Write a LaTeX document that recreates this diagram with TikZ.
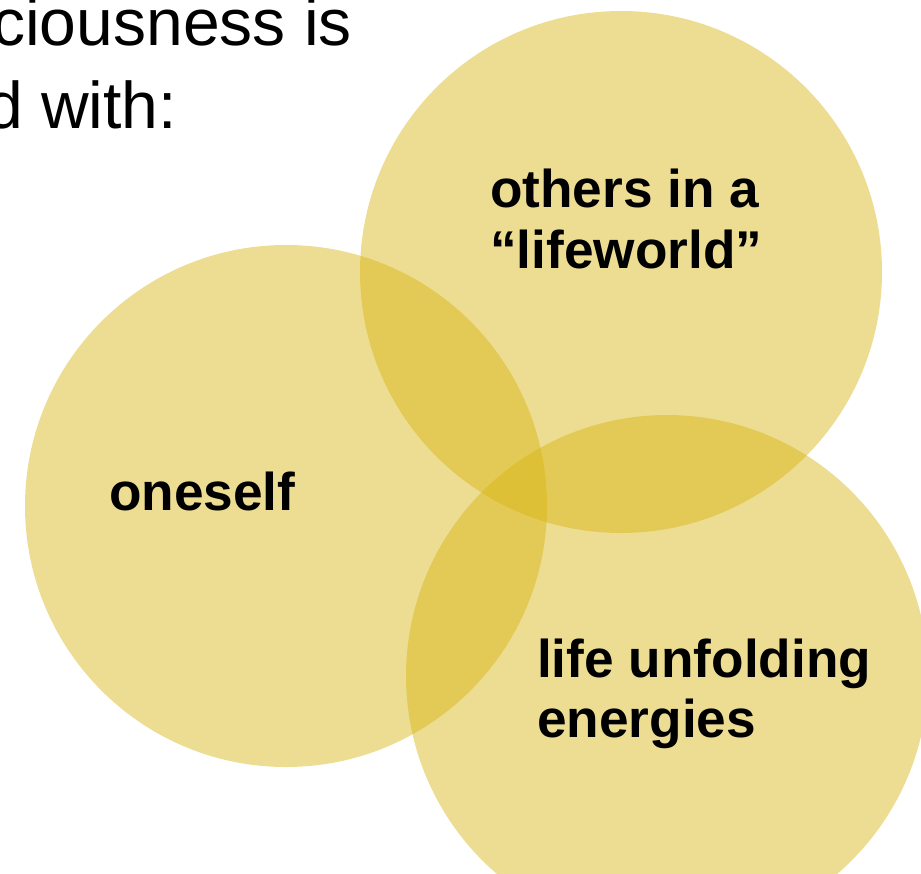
\documentclass[tikz,border=0pt]{standalone}
\usepackage{fontspec}
\setmainfont{Liberation Sans}
\definecolor{venn}{RGB}{214,178,10}
\begin{document}
\begin{tikzpicture}[x=1pt,y=-1pt,
  vcircle/.style={fill=venn,fill opacity=0.44,draw=none},
  head/.style={inner sep=0pt,anchor=base east,font=\fontsize{66}{80}\selectfont},
  lbl/.style={inner sep=0pt,anchor=base west,font=\fontsize{53.2}{61}\selectfont\bfseries}]
\useasboundingbox (0,0) rectangle (921,873);
\clip (0,0) rectangle (921,873);
\fill[vcircle] (286,506) circle (261);
\fill[vcircle] (621,272) circle (261);
\fill[vcircle] (667,676) circle (261);
\node[head] (h1) at (352,45) {ciousness is};
\node[head] (h2) at (177,128) {d with:};
\node[lbl] (o1) at (490,207) {others in a};
\node[lbl] (o2) at (490,268) {“lifeworld”};
\node[lbl] (s1) at (109,510) {oneself};
\node[lbl] (l1) at (537,677) {life unfolding};
\node[lbl] (l2) at (537,737) {energies};
\end{tikzpicture}
\end{document}
